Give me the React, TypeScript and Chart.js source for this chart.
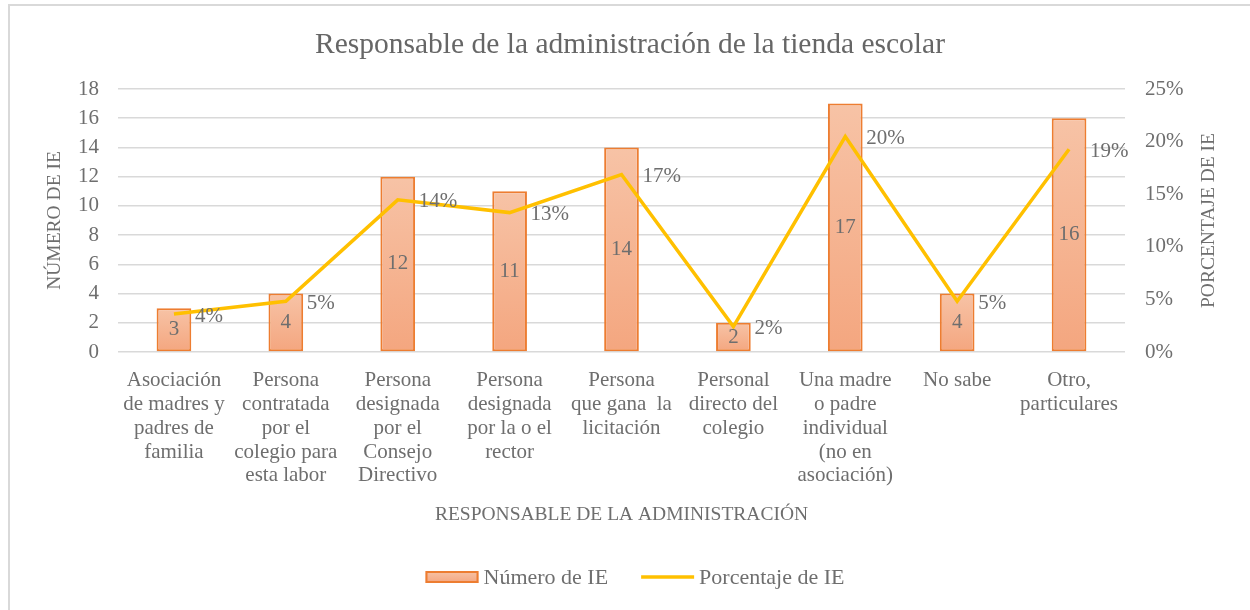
import React, { useEffect, useRef } from "react";
import { Chart, registerables } from "chart.js";

Chart.register(...registerables);

const categories: string[][] = [
  ["Asociación", "de madres y", "padres de", "familia"],
  ["Persona", "contratada", "por el", "colegio para", "esta labor"],
  ["Persona", "designada", "por el", "Consejo", "Directivo"],
  ["Persona", "designada", "por la o el", "rector"],
  ["Persona", "que gana  la", "licitación"],
  ["Personal", "directo del", "colegio"],
  ["Una madre", "o padre", "individual", "(no en", "asociación)"],
  ["No sabe"],
  ["Otro,", "particulares"],
];

const countValues: number[] = [3, 4, 12, 11, 14, 2, 17, 4, 16];
const percentValues: number[] = [0.0361, 0.0482, 0.1446, 0.1325, 0.1687, 0.0241, 0.2048, 0.0482, 0.1928];

const leftTicks: number[] = [0, 2, 4, 6, 8, 10, 12, 14, 16, 18];
const rightTicks: number[] = [0, 0.05, 0.1, 0.15, 0.2, 0.25];

const titleText = "Responsable de la administración de la tienda escolar";
const xTitle = "RESPONSABLE DE LA ADMINISTRACIÓN";
const yTitle = "NÚMERO DE IE";
const y1Title = "PORCENTAJE DE IE";
const barLabel = "Número de IE";
const lineLabel = "Porcentaje de IE";

const FONT = "'Liberation Serif', 'Times New Roman', serif";
const TEXT = "#6e6e6e";
const TITLE_COLOR = "#666666";
const GRID = "#d9d9d9";
const BAR_BORDER = "#ed7d31";
const LINE = "#ffc000";

const W = 1240;
const H = 604;

const fmtPct = (v: number) => `${Math.round(v * 100)}%`;

const overlayPlugin = {
  id: "overlay",
  afterDatasetsDraw(chart: any) {
    const ctx = chart.ctx as CanvasRenderingContext2D;
    ctx.save();
    // data labels on bars
    ctx.font = `21px ${FONT}`;
    ctx.fillStyle = TEXT;
    ctx.textAlign = "center";
    ctx.textBaseline = "middle";
    const barMeta = chart.getDatasetMeta(0);
    barMeta.data.forEach((el: any, i: number) => {
      const p = el.getProps(["x", "y", "base"], true);
      ctx.fillText(String(countValues[i]), p.x, (p.y + p.base) / 2);
    });
    // data labels on line
    ctx.textAlign = "left";
    const lineMeta = chart.getDatasetMeta(1);
    lineMeta.data.forEach((pt: any, i: number) => {
      ctx.fillText(fmtPct(percentValues[i]), pt.x + 21, pt.y + 2);
    });
    ctx.restore();
  },
  afterDraw(chart: any) {
    const ctx = chart.ctx as CanvasRenderingContext2D;
    const ca = chart.chartArea;
    ctx.save();
    // title
    ctx.font = `29.5px ${FONT}`;
    ctx.fillStyle = TITLE_COLOR;
    ctx.textAlign = "center";
    ctx.textBaseline = "middle";
    ctx.fillText(titleText, 620, 39);

    // right axis title (reads bottom to top)
    ctx.save();
    ctx.font = `19.5px ${FONT}`;
    ctx.fillStyle = TEXT;
    ctx.translate(1198.5, (ca.top + ca.bottom) / 2);
    ctx.rotate(-Math.PI / 2);
    ctx.textAlign = "center";
    ctx.textBaseline = "middle";
    ctx.fillText(y1Title, 0, 0);
    ctx.restore();

    // legend
    ctx.font = `22px ${FONT}`;
    ctx.textAlign = "left";
    ctx.textBaseline = "middle";
    const sw = 53;
    const gapText = 5;
    const gapItems = 33;
    const w1 = ctx.measureText(barLabel).width;
    const w2 = ctx.measureText(lineLabel).width;
    const total = sw + gapText + w1 + gapItems + sw + gapText + w2;
    let x = 625 - total / 2;
    const cy = 571;
    const g = ctx.createLinearGradient(0, cy - 6, 0, cy + 6);
    g.addColorStop(0, "#f7c3a6");
    g.addColorStop(1, "#f4a67f");
    ctx.fillStyle = g;
    ctx.fillRect(x, cy - 6, sw, 12);
    ctx.strokeStyle = BAR_BORDER;
    ctx.lineWidth = 2;
    ctx.strokeRect(x + 1, cy - 5, sw - 2, 10);
    x += sw + gapText;
    ctx.fillStyle = TEXT;
    ctx.fillText(barLabel, x, cy + 1);
    x += w1 + gapItems;
    ctx.strokeStyle = LINE;
    ctx.lineWidth = 3.5;
    ctx.beginPath();
    ctx.moveTo(x, cy);
    ctx.lineTo(x + sw, cy);
    ctx.stroke();
    x += sw + gapText;
    ctx.fillStyle = TEXT;
    ctx.fillText(lineLabel, x, cy + 1);
    ctx.restore();
  },
};

export default function App() {
  const ref = useRef<HTMLCanvasElement | null>(null);

  useEffect(() => {
    if (!ref.current) return;
    const chart = new Chart(ref.current, {
      type: "bar",
      data: {
        labels: categories,
        datasets: [
          {
            type: "bar",
            label: barLabel,
            data: countValues,
            yAxisID: "y",
            order: 1,
            backgroundColor: (c: any) => {
              const ch = c.chart;
              const ca = ch.chartArea;
              if (!ca || c.raw === undefined) return "#f5b08c";
              const top = ch.scales.y.getPixelForValue(c.raw);
              const gr = ch.ctx.createLinearGradient(0, top, 0, ca.bottom);
              gr.addColorStop(0, "#f7c3a6");
              gr.addColorStop(1, "#f4a67f");
              return gr;
            },
            borderColor: BAR_BORDER,
            borderWidth: 2,
            borderSkipped: false,
            barPercentage: 0.31,
            categoryPercentage: 1,
          },
          {
            type: "line",
            label: lineLabel,
            data: percentValues,
            yAxisID: "y1",
            order: 0,
            borderColor: LINE,
            backgroundColor: LINE,
            borderWidth: 3.5,
            pointRadius: 0,
            tension: 0,
            fill: false,
          },
        ],
      } as any,
      options: {
        responsive: false,
        animation: false,
        devicePixelRatio: 1,
        layout: { padding: { top: 83, left: 0, right: 0, bottom: 0 } },
        plugins: {
          legend: { display: false },
          title: { display: false },
          tooltip: { enabled: false },
        },
        scales: {
          x: {
            grid: { display: false, drawTicks: false },
            border: { display: false },
            ticks: {
              color: TEXT,
              font: { family: FONT, size: 21, lineHeight: 1.13 },
              padding: 17,
              maxRotation: 0,
              autoSkip: false,
            },
            title: {
              display: true,
              text: xTitle,
              color: TEXT,
              font: { family: FONT, size: 19.5, lineHeight: 1.2 },
              padding: { top: 0, bottom: 83 },
            },
            afterFit: (s: any) => {
              s.height = 258;
            },
          },
          y: {
            position: "left",
            min: 0,
            max: 18,
            afterBuildTicks: (s: any) => {
              s.ticks = leftTicks.map((v) => ({ value: v }));
            },
            grid: { color: GRID, lineWidth: 1.5, drawTicks: false },
            border: { display: false },
            ticks: {
              color: TEXT,
              font: { family: FONT, size: 21 },
              padding: 19,
            },
            title: {
              display: true,
              text: yTitle,
              color: TEXT,
              font: { family: FONT, size: 19.5, lineHeight: 1.2 },
              padding: { top: 33, bottom: 0 },
            },
            afterFit: (s: any) => {
              s.width = 108;
            },
          },
          y1: {
            position: "right",
            min: 0,
            max: 0.25,
            afterBuildTicks: (s: any) => {
              s.ticks = rightTicks.map((v) => ({ value: v }));
            },
            grid: { display: false, drawTicks: false },
            border: { display: false },
            ticks: {
              color: TEXT,
              font: { family: FONT, size: 21 },
              padding: 20,
              callback: (v: any) => fmtPct(Number(v)),
            },
            title: { display: false },
            afterFit: (s: any) => {
              s.width = 125;
            },
          },
        },
      } as any,
      plugins: [overlayPlugin],
    });
    return () => chart.destroy();
  }, []);

  return (
    <div
      style={{
        position: "fixed",
        left: 8,
        top: 4,
        width: W + 2,
        height: H + 2,
        borderLeft: "2px solid #d9d9d9",
        borderTop: "2px solid #d9d9d9",
        boxSizing: "border-box",
        background: "#ffffff",
        overflow: "hidden",
      }}
    >
      <canvas ref={ref} width={W} height={H} style={{ display: "block", width: W, height: H }} />
    </div>
  );
}
